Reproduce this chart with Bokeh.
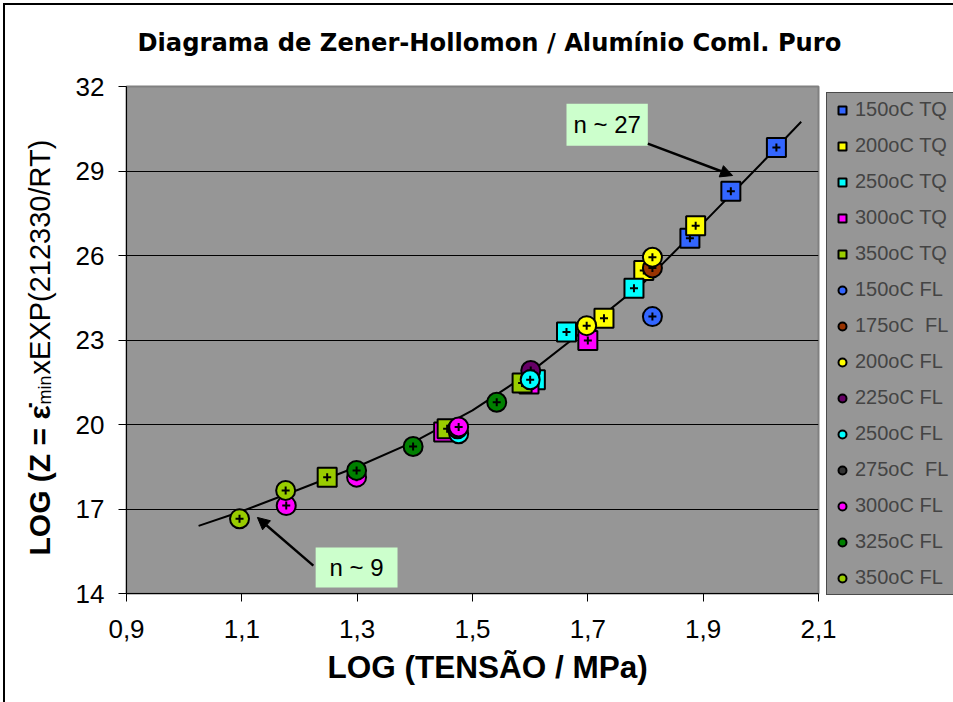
import math
from bokeh.plotting import figure
from bokeh.layouts import row
from bokeh.models import (FixedTicker, Legend, LegendItem, Label, Arrow, NormalHead,
                          BoxAnnotation, ColumnDataSource, Title, Range1d)
from bokeh.embed import file_html
from bokeh.resources import INLINE

FONT = "Liberation Sans"

# ---------------- data ----------------
x_ticks = [0.9, 1.1, 1.3, 1.5, 1.7, 1.9, 2.1]
x_tick_labels = ["0,9", "1,1", "1,3", "1,5", "1,7", "1,9", "2,1"]
y_ticks = [14, 17, 20, 23, 26, 29, 32]
y_tick_labels = ["14", "17", "20", "23", "26", "29", "32"]

series_names = ["150oC TQ", "200oC TQ", "250oC TQ", "300oC TQ", "350oC TQ",
                "150oC FL", "175oC  FL", "200oC FL", "225oC FL", "250oC FL",
                "275oC  FL", "300oC FL", "325oC FL", "350oC FL"]
series_colors = ["#3366FF", "#FFFF00", "#00FFFF", "#FF00FF", "#99CC00",
                 "#3366FF", "#993300", "#FFFF00", "#660066", "#00FFFF",
                 "#333333", "#FF00FF", "#008000", "#99CC00"]
series_markers = ["square"] * 5 + ["circle"] * 9

x_150TQ = [1.877, 1.948, 2.027]
y_150TQ = [26.61, 28.28, 29.83]
x_200TQ = [1.728, 1.797, 1.887]
y_200TQ = [23.77, 25.47, 27.06]
x_250TQ = [1.609, 1.663, 1.780]
y_250TQ = [21.59, 23.28, 24.84]
x_300TQ = [1.450, 1.598, 1.700]
y_300TQ = [19.73, 21.44, 22.98]
x_350TQ = [1.248, 1.456, 1.586]
y_350TQ = [18.13, 19.85, 21.47]
x_150FL = [1.812]
y_150FL = [23.83]
x_175FL = [1.812]
y_175FL = [25.56]
x_200FL = [1.698, 1.812]
y_200FL = [23.51, 25.94]
x_225FL = [1.601]
y_225FL = [21.92]
x_250FL = [1.476, 1.600]
y_250FL = [19.67, 21.59]
x_275FL = [1.474]
y_275FL = [19.85]
x_300FL = [1.177, 1.299, 1.476]
y_300FL = [17.12, 18.13, 19.91]
x_325FL = [1.299, 1.397, 1.542]
y_325FL = [18.37, 19.22, 20.79]
x_350FL = [1.096, 1.176]
y_350FL = [16.65, 17.66]

series_x = [x_150TQ, x_200TQ, x_250TQ, x_300TQ, x_350TQ, x_150FL, x_175FL,
            x_200FL, x_225FL, x_250FL, x_275FL, x_300FL, x_325FL, x_350FL]
series_y = [y_150TQ, y_200TQ, y_250TQ, y_300TQ, y_350TQ, y_150FL, y_175FL,
            y_200FL, y_225FL, y_250FL, y_275FL, y_300FL, y_325FL, y_350FL]

# fitted curve
curve_x = [1.025, 1.1, 1.2, 1.3, 1.4, 1.5, 1.6, 1.7, 1.8, 1.9, 2.0, 2.07]
curve_y = [16.40, 16.92, 17.70, 18.50, 19.40, 20.50, 21.85, 23.45, 25.10, 27.15, 29.25, 30.75]

# ---------------- layout constants ----------------
TOTAL_H = 702
LEFT_W = 70
FRAME_TOP = 86
FRAME_H = 507

# ---------------- left strip: y-axis title (mixed styles) ----------------
# its frame is aligned with the main frame by the row layout; map 1 unit = 1 px
pl = figure(width=LEFT_W, height=TOTAL_H, x_range=Range1d(0, LEFT_W),
            y_range=Range1d(TOTAL_H - FRAME_TOP - FRAME_H, TOTAL_H - FRAME_TOP),
            min_border=0, output_backend="svg", toolbar_location=None, title=None,
            background_fill_color=None, border_fill_color=None)
pl.axis.visible = False
pl.grid.visible = False
pl.outline_line_color = None

ang = math.pi / 2
pl.add_layout(Label(x=39, y=147, text="LOG (Z = ", angle=ang, text_align="left",
                    text_baseline="alphabetic", text_font=FONT, text_font_size="30px",
                    text_font_style="bold", text_color="black"))
pl.add_layout(Label(x=39, y=283, text="ε̇", angle=ang, text_align="left",
                    text_baseline="alphabetic", text_font=FONT, text_font_size="30px",
                    text_font_style="bold", text_color="black"))
pl.add_layout(Label(x=44, y=298, text="min", angle=ang, text_align="left",
                    text_baseline="alphabetic", text_font=FONT, text_font_size="18px",
                    text_color="black"))
pl.add_layout(Label(x=39, y=328, text="xEXP(212330/RT)", angle=ang, text_align="left",
                    text_baseline="alphabetic", text_font=FONT, text_font_size="29px",
                    text_color="black"))

# ---------------- main figure ----------------
p = figure(frame_width=692, frame_height=FRAME_H,
           min_border_left=126 - LEFT_W, min_border_right=135,
           min_border_top=FRAME_TOP, min_border_bottom=TOTAL_H - FRAME_TOP - FRAME_H,
           x_range=Range1d(0.9, 2.1), y_range=Range1d(14, 32),
           output_backend="svg", toolbar_location=None, title=None,
           background_fill_color="#969696", border_fill_color=None)

# second (blank) line lifts the title towards the top of the page
p.add_layout(Title(text="Diagrama de Zener-Hollomon / Alumínio Coml. Puro\n\u00a0",
                   align="left", vertical_align="top", offset=11, standoff=0,
                   text_font="DejaVu Sans", text_font_size="24.2px", text_font_style="bold",
                   text_color="black"), "above")

p.outline_line_color = "#808080"
p.outline_line_width = 2

p.xgrid.visible = False
p.ygrid.ticker = FixedTicker(ticks=y_ticks)
p.ygrid.grid_line_color = "black"
p.ygrid.grid_line_width = 1

for ax in (p.xaxis[0], p.yaxis[0]):
    ax.axis_line_color = "black"
    ax.axis_line_width = 1
    ax.major_tick_line_color = "black"
    ax.major_tick_in = 0
    ax.major_tick_out = 8
    ax.minor_tick_line_color = None
    ax.major_label_text_font = FONT
    ax.major_label_text_font_size = "26px"
    ax.major_label_text_color = "black"

p.xaxis.ticker = FixedTicker(ticks=x_ticks)
p.xaxis.major_label_overrides = dict(zip(x_ticks, x_tick_labels))
p.yaxis.ticker = FixedTicker(ticks=y_ticks)
p.yaxis.major_label_overrides = dict(zip(y_ticks, y_tick_labels))
p.xaxis.major_label_standoff = 18
p.yaxis.major_label_standoff = 14

p.add_layout(Title(text="LOG (TENSÃO / MPa)", align="left", offset=201, standoff=13,
                   text_font=FONT, text_font_size="31.5px", text_font_style="bold",
                   text_color="black"), "below")

# curve
p.line(curve_x, curve_y, line_color="black", line_width=2)

# series
items = []
for name, color, mk, xs, ys in zip(series_names, series_colors, series_markers,
                                   series_x, series_y):
    src = ColumnDataSource(dict(x=xs, y=ys))
    r = p.scatter("x", "y", source=src, marker=mk, size=19,
                  fill_color=color, line_color="black", line_width=2)
    p.scatter("x", "y", source=src, marker="cross", size=8,
              line_color="black", line_width=2)
    items.append(LegendItem(label=name, renderers=[r]))

legend = Legend(items=items, location=(8, -2))
legend.background_fill_color = "#969696"
legend.background_fill_alpha = 1
legend.border_line_color = "black"
legend.border_line_width = 1
legend.label_text_font = FONT
legend.label_text_font_size = "20px"
legend.glyph_width = 20
legend.glyph_height = 22
legend.label_height = 22
legend.spacing = 13
legend.padding = 5
legend.margin = 0
legend.label_standoff = 3
p.add_layout(legend, "right")

# annotation boxes
box27 = dict(left=1.663, right=1.804, bottom=29.90, top=31.39)
box9 = dict(left=1.228, right=1.370, bottom=14.21, top=15.63)
for b in (box27, box9):
    p.add_layout(BoxAnnotation(left=b["left"], right=b["right"], bottom=b["bottom"],
                               top=b["top"], fill_color="#CCFFCC", fill_alpha=1,
                               line_color=None, level="annotation"))
p.add_layout(Label(x=(box27["left"] + box27["right"]) / 2, y=(box27["bottom"] + box27["top"]) / 2,
                   text="n ~ 27", text_align="center", text_baseline="middle",
                   text_font=FONT, text_font_size="24px", text_color="black"))
p.add_layout(Label(x=(box9["left"] + box9["right"]) / 2, y=(box9["bottom"] + box9["top"]) / 2,
                   text="n ~ 9", text_align="center", text_baseline="middle",
                   text_font=FONT, text_font_size="24px", text_color="black"))

p.add_layout(Arrow(x_start=1.804, y_start=29.97, x_end=1.951, y_end=28.84,
                   line_color="black", line_width=2.5,
                   end=NormalHead(size=12, fill_color="black", line_color="black")))
p.add_layout(Arrow(x_start=1.224, y_start=14.99, x_end=1.127, y_end=16.70,
                   line_color="black", line_width=2.5,
                   end=NormalHead(size=12, fill_color="black", line_color="black")))

# outer chart border (top and left edges visible in the reference)
layout = row(pl, p, spacing=0,
             styles={"background-color": "white",
                     "box-shadow": "inset 3px 3px 0 0 white, inset 5px 5px 0 0 black"})
open("out.html", "w").write(file_html(layout, INLINE))
